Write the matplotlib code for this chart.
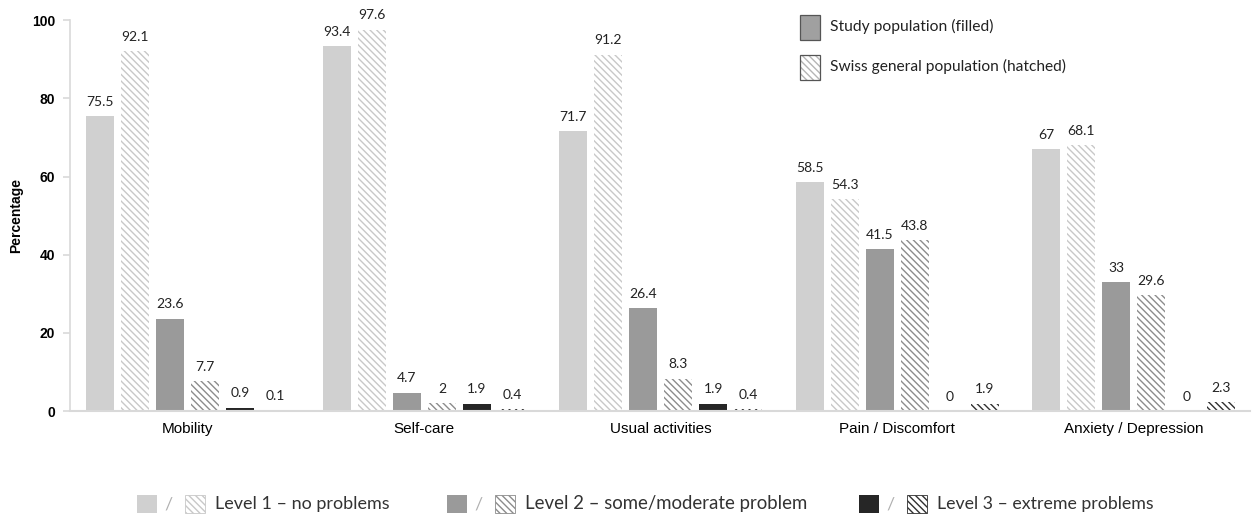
import matplotlib.pyplot as plt
from matplotlib.patches import Rectangle
import numpy as np

# EQ-5D-3L dimensions
dimensions = ["Mobility", "Self-care", "Usual activities", "Pain / Discomfort", "Anxiety / Depression"]

# study population (filled) and Swiss general population (hatched), per level
study_l1 = [75.5, 93.4, 71.7, 58.5, 67]
swiss_l1 = [92.1, 97.6, 91.2, 54.3, 68.1]
study_l2 = [23.6, 4.7, 26.4, 41.5, 33]
swiss_l2 = [7.7, 2, 8.3, 43.8, 29.6]
study_l3 = [0.9, 1.9, 1.9, 0, 0]
swiss_l3 = [0.1, 0.4, 0.4, 1.9, 2.3]

level_labels = ["Level 1 \u2013 no problems", "Level 2 \u2013 some/moderate problem", "Level 3 \u2013 extreme problems"]
level_colors = ["#d0d0d0", "#9a9a9a", "#262626"]
hatch_colors = ["#c8c8c8", "#8c8c8c", "#303030"]

series = [
    (study_l1, 0, False), (swiss_l1, 0, True),
    (study_l2, 1, False), (swiss_l2, 1, True),
    (study_l3, 2, False), (swiss_l3, 2, True),
]

plt.rcParams['hatch.linewidth'] = 1.0
lab_font = ["Lato", "DejaVu Sans"]
HATCH = "\\\\\\\\\\"

fig = plt.figure(figsize=(12.56, 5.19), dpi=100)
ax = fig.add_axes([0.056, 0.208, 0.939, 0.753])

x = np.arange(len(dimensions))
step = 0.148
width = 0.118
for i, (vals, lvl, hatched) in enumerate(series):
    pos = x + (i - 2.5) * step
    if hatched:
        bars = ax.bar(pos, vals, width, facecolor="white", edgecolor=hatch_colors[lvl],
                      hatch=HATCH, linewidth=0)
    else:
        bars = ax.bar(pos, vals, width, color=level_colors[lvl], linewidth=0)
    for b, v in zip(bars, vals):
        ax.annotate(f"{v:g}", (b.get_x() + b.get_width() / 2, v), xytext=(0, 6),
                    textcoords="offset points", ha="center", va="bottom",
                    fontsize=10, family=lab_font, color="#222222", clip_on=False)

ax.set_ylim(0, 100)
ax.set_xlim(-0.497, 4.49)
ax.set_yticks([0, 20, 40, 60, 80, 100])
ax.set_xticks(x)
ax.set_xticklabels(dimensions, fontsize=11, family="Liberation Sans")
for t in ax.get_yticklabels():
    t.set_fontweight("bold")
    t.set_family("Liberation Sans")
    t.set_fontsize(10)
ax.tick_params(axis="x", length=0, pad=8)
ax.tick_params(axis="y", length=5, color="#d9d9d9", width=1.2, pad=6)
ax.set_ylabel("Percentage", fontsize=10, fontweight="bold", family="Liberation Sans", labelpad=6)
for s in ["top", "right"]:
    ax.spines[s].set_visible(False)
ax.spines["left"].set_color("#d9d9d9")
ax.spines["bottom"].set_color("#d9d9d9")
ax.spines["left"].set_linewidth(1.2)
ax.spines["bottom"].set_linewidth(1.5)

W, H = fig.get_size_inches() * fig.dpi
renderer = fig.canvas.get_renderer()

def px(xp, yp):
    return xp / W, 1 - yp / H

def fitted_text(xp, yp, s, target_w, color):
    # shrink/grow the font so the label spans the same width as in the original
    t = fig.text(*px(xp, yp), s, fontsize=12, family=lab_font, va="center", color=color)
    w = t.get_window_extent(renderer).width
    t.set_fontsize(12 * target_w / w)
    return t

def swatch(xp, yc, w, h, fc, ec, hat, lw):
    x0, y0 = px(xp, yc + h / 2)
    fig.patches.append(Rectangle((x0, y0), w / W, h / H, transform=fig.transFigure,
                                 facecolor=fc, edgecolor=ec, hatch=hat, linewidth=lw))

# top-right key: filled vs hatched
swatch(800, 27, 20, 25, "#a0a0a0", "#555555", None, 0.9)
fitted_text(830, 26, "Study population (filled)", 163, "#222222")
swatch(800, 67, 20, 25, "white", "#b5b5b5", HATCH, 0)
swatch(800, 67, 20, 25, "none", "#555555", None, 0.9)
fitted_text(830, 66, "Swiss general population (hatched)", 235, "#222222")

# bottom key: levels
key_x = [137, 447, 859]
key_w = [175, 283, 216]
yc = 504
for lvl, kx in enumerate(key_x):
    swatch(kx, yc, 20, 18, level_colors[lvl], level_colors[lvl], None, 0)
    fig.text(*px(kx + 31, yc), "/", fontsize=13, color="#b0b0b0", va="center", ha="center",
             family=lab_font)
    swatch(kx + 48, yc, 20, 18, "white", hatch_colors[lvl], HATCH, 0.6)
    fitted_text(kx + 78, yc, level_labels[lvl], key_w[lvl], "#333333")

fig.savefig("out.png", dpi=100)
